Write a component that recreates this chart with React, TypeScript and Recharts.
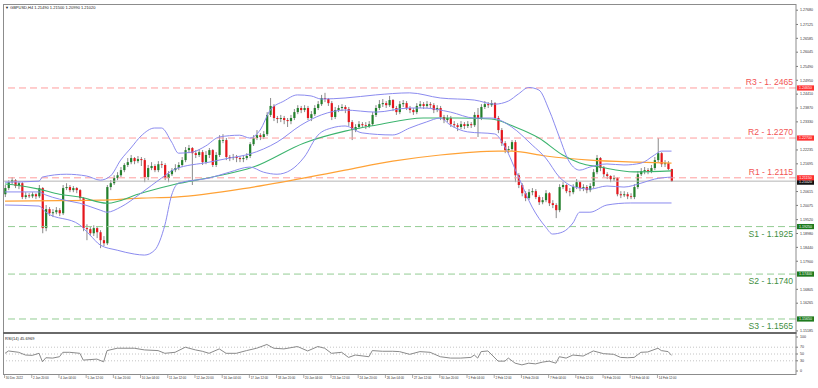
import type { ReactElement } from 'react'
import { Bar, ComposedChart, Line, ReferenceLine, XAxis, YAxis } from 'recharts'

// GBPUSD H4, 30 Dec 2022 – 15 Feb 2023. Values.
const FIRST_OPEN = 1.2051

const closes = [
  1.2075, 1.2098, 1.2106, 1.2083, 1.2094, 1.2040, 1.2047, 1.2043, 1.2051, 1.2043,
  1.2075, 1.1919, 1.1993, 1.1977, 1.1981, 1.1989, 1.1977, 1.2075, 1.2079, 1.2067,
  1.2075, 1.2067, 1.2036, 1.1919, 1.1915, 1.1899, 1.1919, 1.1903, 1.1872, 1.1860,
  1.2079, 1.2094, 1.2114, 1.2125, 1.2145, 1.2165, 1.2176, 1.2192, 1.2180, 1.2188,
  1.2184, 1.2118, 1.2153, 1.2161, 1.2145, 1.2168, 1.2165, 1.2114, 1.2129, 1.2145,
  1.2153, 1.2165, 1.2184, 1.2223, 1.2231, 1.2211, 1.2204, 1.2215, 1.2176, 1.2204,
  1.2223, 1.2165, 1.2204, 1.2262, 1.2262, 1.2196, 1.2192, 1.2196, 1.2192, 1.2188,
  1.2192, 1.2200, 1.2246, 1.2270, 1.2281, 1.2274, 1.2285, 1.2360, 1.2395, 1.2348,
  1.2344, 1.2348, 1.2340, 1.2336, 1.2348, 1.2371, 1.2387, 1.2379, 1.2387, 1.2348,
  1.2363, 1.2387, 1.2402, 1.2426, 1.2422, 1.2406, 1.2352, 1.2379, 1.2387, 1.2391,
  1.2383, 1.2332, 1.2301, 1.2313, 1.2324, 1.2320, 1.2317, 1.2324, 1.2360, 1.2387,
  1.2402, 1.2406, 1.2398, 1.2418, 1.2387, 1.2371, 1.2402, 1.2406, 1.2387, 1.2379,
  1.2371, 1.2395, 1.2402, 1.2395, 1.2402, 1.2398, 1.2379, 1.2387, 1.2352, 1.2340,
  1.2348, 1.2324, 1.2320, 1.2313, 1.2324, 1.2317, 1.2324, 1.2320, 1.2360, 1.2348,
  1.2391, 1.2402, 1.2398, 1.2406, 1.2348, 1.2301, 1.2250, 1.2223, 1.2227, 1.2254,
  1.2125, 1.2087, 1.2055, 1.2036, 1.2059, 1.2063, 1.2040, 1.2020, 1.2028, 1.2055,
  1.2016, 1.2009, 1.1989, 1.2079, 1.2087, 1.2063, 1.2059, 1.2079, 1.2098, 1.2075,
  1.2079, 1.2067, 1.2083, 1.2137, 1.2192, 1.2153, 1.2129, 1.2122, 1.2110, 1.2114,
  1.2051, 1.2047, 1.2051, 1.2043, 1.2040, 1.2079, 1.2129, 1.2141, 1.2145, 1.2141,
  1.2153, 1.2184, 1.2211, 1.2168, 1.2172, 1.2149, 1.2102
]

const highs = [
  1.2087, 1.2106, 1.2118, 1.2110, 1.2102, 1.2098, 1.2059, 1.2055, 1.2059, 1.2055,
  1.2087, 1.2079, 1.2009, 1.2001, 1.1993, 1.2001, 1.1997, 1.2087, 1.2094, 1.2087,
  1.2083, 1.2079, 1.2071, 1.2040, 1.1934, 1.1923, 1.1930, 1.1923, 1.1911, 1.1888,
  1.2087, 1.2106, 1.2125, 1.2137, 1.2157, 1.2172, 1.2192, 1.2204, 1.2196, 1.2200,
  1.2196, 1.2192, 1.2165, 1.2176, 1.2168, 1.2180, 1.2180, 1.2172, 1.2141, 1.2153,
  1.2168, 1.2176, 1.2196, 1.2235, 1.2243, 1.2235, 1.2223, 1.2227, 1.2223, 1.2219,
  1.2231, 1.2227, 1.2215, 1.2281, 1.2285, 1.2270, 1.2204, 1.2208, 1.2204, 1.2200,
  1.2204, 1.2211, 1.2254, 1.2281, 1.2301, 1.2289, 1.2297, 1.2371, 1.2426, 1.2402,
  1.2356, 1.2360, 1.2356, 1.2348, 1.2360, 1.2383, 1.2398, 1.2395, 1.2398, 1.2395,
  1.2375, 1.2398, 1.2414, 1.2438, 1.2446, 1.2426, 1.2414, 1.2391, 1.2398, 1.2402,
  1.2398, 1.2391, 1.2340, 1.2324, 1.2336, 1.2332, 1.2332, 1.2336, 1.2371, 1.2398,
  1.2418, 1.2422, 1.2414, 1.2434, 1.2422, 1.2395, 1.2414, 1.2418, 1.2414, 1.2395,
  1.2387, 1.2406, 1.2414, 1.2410, 1.2414, 1.2410, 1.2406, 1.2398, 1.2395, 1.2360,
  1.2360, 1.2356, 1.2336, 1.2328, 1.2336, 1.2332, 1.2336, 1.2332, 1.2371, 1.2387,
  1.2402, 1.2414, 1.2410, 1.2418, 1.2410, 1.2356, 1.2309, 1.2258, 1.2239, 1.2262,
  1.2262, 1.2133, 1.2094, 1.2063, 1.2071, 1.2075, 1.2071, 1.2047, 1.2040, 1.2067,
  1.2059, 1.2028, 1.2016, 1.2090, 1.2098, 1.2090, 1.2075, 1.2090, 1.2110, 1.2102,
  1.2090, 1.2087, 1.2094, 1.2149, 1.2204, 1.2196, 1.2161, 1.2137, 1.2125, 1.2125,
  1.2118, 1.2063, 1.2063, 1.2059, 1.2055, 1.2090, 1.2141, 1.2153, 1.2157, 1.2153,
  1.2165, 1.2196, 1.2270, 1.2215, 1.2184, 1.2180, 1.2150
]

const lows = [
  1.2040, 1.2067, 1.2090, 1.2075, 1.2071, 1.2032, 1.2032, 1.2036, 1.2036, 1.2032,
  1.2036, 1.1899, 1.1907, 1.1966, 1.1962, 1.1973, 1.1966, 1.1970, 1.2067, 1.2059,
  1.2059, 1.2055, 1.2028, 1.1907, 1.1872, 1.1888, 1.1888, 1.1880, 1.1841, 1.1849,
  1.1853, 1.2067, 1.2087, 1.2106, 1.2118, 1.2137, 1.2157, 1.2168, 1.2168, 1.2172,
  1.2161, 1.2098, 1.2106, 1.2145, 1.2137, 1.2137, 1.2153, 1.2106, 1.2098, 1.2122,
  1.2137, 1.2145, 1.2157, 1.2176, 1.2211, 1.2087, 1.2192, 1.2196, 1.2165, 1.2168,
  1.2192, 1.2157, 1.2157, 1.2196, 1.2250, 1.2184, 1.2180, 1.2184, 1.2176, 1.2176,
  1.2176, 1.2184, 1.2192, 1.2239, 1.2262, 1.2262, 1.2266, 1.2278, 1.2352, 1.2336,
  1.2328, 1.2332, 1.2324, 1.2313, 1.2324, 1.2340, 1.2363, 1.2367, 1.2371, 1.2340,
  1.2336, 1.2356, 1.2379, 1.2395, 1.2410, 1.2395, 1.2340, 1.2344, 1.2371, 1.2375,
  1.2367, 1.2317, 1.2262, 1.2293, 1.2305, 1.2309, 1.2305, 1.2309, 1.2317, 1.2352,
  1.2379, 1.2391, 1.2387, 1.2391, 1.2375, 1.2360, 1.2363, 1.2391, 1.2379, 1.2367,
  1.2360, 1.2363, 1.2387, 1.2383, 1.2387, 1.2387, 1.2367, 1.2371, 1.2340, 1.2328,
  1.2332, 1.2313, 1.2309, 1.2297, 1.2305, 1.2305, 1.2309, 1.2309, 1.2313, 1.2274,
  1.2340, 1.2383, 1.2387, 1.2391, 1.2340, 1.2289, 1.2239, 1.2211, 1.2211, 1.2219,
  1.2098, 1.2075, 1.2043, 1.2024, 1.2028, 1.2047, 1.2032, 1.2009, 1.2012, 1.2020,
  1.2005, 1.1997, 1.1958, 1.1981, 1.2071, 1.2055, 1.2043, 1.2051, 1.2071, 1.2063,
  1.2063, 1.2055, 1.2059, 1.2075, 1.2129, 1.2141, 1.2118, 1.2110, 1.2098, 1.2102,
  1.2043, 1.2036, 1.2040, 1.2032, 1.2032, 1.2032, 1.2071, 1.2122, 1.2129, 1.2129,
  1.2133, 1.2145, 1.2176, 1.2157, 1.2157, 1.2145, 1.2099
]

// indicator readings as [bar index, value]
const bbUpper: [number, number][] = [
  [0, 1.2098], [10, 1.2102], [11, 1.2118], [18, 1.2129], [24, 1.2122], [28, 1.2106],
  [31, 1.2122], [34, 1.2184], [37, 1.2231], [40, 1.2278], [44, 1.2309], [46, 1.2309],
  [49, 1.2254], [51, 1.2211], [55, 1.2215], [59, 1.2239], [63, 1.2274], [69, 1.2281],
  [72, 1.2270], [75, 1.2301], [78, 1.2379], [82, 1.2414], [86, 1.2438], [90, 1.2434],
  [93, 1.2422], [100, 1.2426], [109, 1.2438], [119, 1.2446], [128, 1.2426], [138, 1.2418],
  [144, 1.2402], [148, 1.2414], [151, 1.2442], [154, 1.2467], [157, 1.2457], [160, 1.2379],
  [163, 1.2274], [166, 1.2176], [169, 1.2145], [172, 1.2157], [177, 1.2169], [182, 1.2165],
  [187, 1.2172], [191, 1.2204], [193, 1.2219], [196, 1.2219]
]

const bbMiddle: [number, number][] = [
  [0, 1.2060], [10, 1.2060], [12, 1.2048], [16, 1.2032], [22, 1.2016], [28, 1.1989],
  [30, 1.1981], [34, 1.2001], [40, 1.2055], [46, 1.2114], [50, 1.2149], [60, 1.2176],
  [66, 1.2192], [72, 1.2208], [80, 1.2254], [87, 1.2320], [93, 1.2360], [100, 1.2379],
  [109, 1.2371], [119, 1.2387], [123, 1.2387], [131, 1.2371], [138, 1.2348], [143, 1.2348],
  [149, 1.2313], [155, 1.2243], [159, 1.2192], [163, 1.2118], [166, 1.2087], [169, 1.2075],
  [172, 1.2071], [177, 1.2083], [182, 1.2079], [187, 1.2094], [191, 1.2110], [196, 1.2118]
]

const bbLower: [number, number][] = [
  [0, 1.2009], [10, 1.2005], [12, 1.1981], [22, 1.1931], [25, 1.1892], [28, 1.1853],
  [33, 1.1833], [38, 1.1818], [41, 1.1814], [44, 1.1833], [47, 1.1931], [49, 1.2048],
  [51, 1.2094], [60, 1.2114], [66, 1.2137], [72, 1.2157], [76, 1.2137], [80, 1.2129],
  [84, 1.2145], [88, 1.2196], [92, 1.2281], [96, 1.2309], [100, 1.2317], [105, 1.2290],
  [114, 1.2282], [119, 1.2309], [124, 1.2333], [128, 1.2348], [131, 1.2320], [136, 1.2294],
  [144, 1.2286], [147, 1.2235], [151, 1.2118], [155, 1.2001], [159, 1.1923], [161, 1.1896],
  [164, 1.1904], [167, 1.1939], [169, 1.1981], [172, 1.1981], [177, 1.2009], [184, 1.2017],
  [196, 1.2017]
]

const maGreen: [number, number][] = [
  [0, 1.2091], [3, 1.2087], [10, 1.2071], [16, 1.2051], [22, 1.2040], [30, 1.2016],
  [40, 1.2055], [50, 1.2090], [61, 1.2118], [73, 1.2157], [88, 1.2251], [100, 1.2297],
  [109, 1.2320], [123, 1.2348], [133, 1.2348], [143, 1.2344], [150, 1.2313], [157, 1.2270],
  [164, 1.2204], [169, 1.2173], [175, 1.2157], [185, 1.2138], [196, 1.2142]
]

const maOrange: [number, number][] = [
  [0, 1.2024], [16, 1.2026], [28, 1.2028], [40, 1.2036], [50, 1.2040], [73, 1.2079],
  [100, 1.2145], [114, 1.2180], [128, 1.2204], [145, 1.2219], [149, 1.2219], [159, 1.2200],
  [172, 1.2184], [186, 1.2176], [196, 1.2172]
]

const rsi14: [number, number][] = [
  [0, 52], [1, 59], [4, 55], [6, 47], [8, 46], [10, 52], [11, 27], [12, 39], [14, 38],
  [16, 42], [17, 55], [19, 55], [22, 52], [23, 32], [27, 35], [29, 27], [30, 60], [33, 67],
  [38, 67], [41, 62], [45, 60], [47, 52], [50, 55], [53, 70], [56, 62], [58, 58], [60, 52],
  [63, 65], [65, 52], [68, 52], [71, 60], [74, 67], [77, 78], [79, 67], [82, 65], [86, 72],
  [89, 59], [92, 72], [94, 67], [96, 52], [99, 55], [101, 40], [103, 47], [107, 42],
  [108, 60], [111, 58], [114, 58], [116, 57], [119, 49], [122, 57], [125, 55], [128, 42],
  [131, 38], [134, 38], [137, 40], [138, 47], [139, 38], [140, 57], [142, 59], [145, 29],
  [147, 29], [148, 38], [150, 23], [152, 18], [154, 23], [156, 21], [158, 26], [160, 29],
  [162, 23], [163, 42], [165, 38], [167, 47], [170, 44], [173, 59], [176, 51], [179, 49],
  [181, 40], [183, 39], [185, 40], [187, 55], [189, 56], [192, 67], [193, 60], [195, 57],
  [196, 46]
]

const levels = [
  { kind: 'R', value: 1.2465, text: 'R3 - 1. 2465' },
  { kind: 'R', value: 1.2270, text: 'R2 - 1.2270' },
  { kind: 'R', value: 1.2115, text: 'R1 - 1.2115' },
  { kind: 'S', value: 1.1925, text: 'S1 - 1.1925' },
  { kind: 'S', value: 1.1740, text: 'S2 - 1.1740' },
  { kind: 'S', value: 1.1565, text: 'S3 - 1.1565' }
]

// visible price labels (the ones under the level tags are hidden)
const priceTicks = [
  1.27680, 1.27125, 1.26585, 1.26045, 1.25490, 1.24950, 1.24410, 1.23870, 1.23330,
  1.22235, 1.21695, 1.20615, 1.20075, 1.19520, 1.18980, 1.18440, 1.17900, 1.16805,
  1.16265, 1.15185
]
const rsiTicks = [0, 30, 50, 70, 100]

const timeLabels = [
  '30 Dec 2022', '2 Jan 20:00', '4 Jan 04:00', '5 Jan 12:00', '6 Jan 20:00',
  '10 Jan 04:00', '11 Jan 12:00', '12 Jan 20:00', '16 Jan 04:00', '17 Jan 12:00',
  '18 Jan 20:00', '20 Jan 04:00', '23 Jan 12:00', '24 Jan 20:00', '26 Jan 04:00',
  '27 Jan 12:00', '30 Jan 20:00', '1 Feb 04:00', '2 Feb 12:00', '3 Feb 20:00',
  '7 Feb 04:00', '8 Feb 12:00', '9 Feb 20:00', '13 Feb 04:00', '14 Feb 12:00'
]
const BARS_PER_LABEL = 8

const W = 818
const FONT = '"Liberation Sans", Arial, sans-serif'
const X_DOMAIN: [number, number] = [-0.6, 232.6]
const PRICE_DOMAIN: [number, number] = [1.15104, 1.27922]

const BULL = '#23802c'
const BEAR = '#e5161c'
const WICK = '#7d7d7d'
const BAND = '#8b8bef'
const RES_LINE = '#ff9d9d'
const SUP_LINE = '#93cc93'
const RES_TEXT = '#f25555'
const SUP_TEXT = '#3f8f3f'
const RES_TAG = '#ff3030'
const SUP_TAG = '#1d7a1d'

type Row = {
  i: number
  o: number
  c: number
  h: number
  l: number
  range: [number, number]
  [key: string]: number | null | [number, number]
}

const rows: Row[] = closes.map((c, i) => ({
  i,
  o: i === 0 ? FIRST_OPEN : closes[i - 1],
  c,
  h: highs[i],
  l: lows[i],
  range: [lows[i], highs[i]],
  upper: null,
  middle: null,
  lower: null,
  green: null,
  orange: null,
  rsi: null
}))

function put(key: string, pts: [number, number][]): void {
  pts.forEach(([i, v]) => { rows[i][key] = v })
}
put('upper', bbUpper)
put('middle', bbMiddle)
put('lower', bbLower)
put('green', maGreen)
put('orange', maOrange)
put('rsi', rsi14)

const lastClose = closes[closes.length - 1]

function Candle(props: any): ReactElement | null {
  const { x, y, width, height, payload } = props
  if (payload == null || y == null || height == null) return null
  const { o, c, h, l } = payload as Row
  const top = Math.min(y, y + height)
  const span = Math.abs(height)
  const k = h === l ? 0 : span / (h - l)
  const bodyTop = top + (h - Math.max(o, c)) * k
  const bodyBot = top + (h - Math.min(o, c)) * k
  const cx = x + width / 2
  return (
    <g>
      <line x1={cx} x2={cx} y1={top} y2={top + span} stroke={WICK} strokeWidth={0.9} />
      <rect
        x={cx - 1.1}
        y={bodyTop}
        width={2.2}
        height={Math.max(bodyBot - bodyTop, 0.8)}
        fill={c >= o ? BULL : BEAR}
      />
    </g>
  )
}

function Tag({ x, y, fill, text }: { x: number, y: number, fill: string, text: string }): ReactElement {
  return (
    <g fontFamily={FONT}>
      <rect x={x} y={y - 2.6} width={17} height={5.2} fill={fill} />
      <text x={x + 8.5} y={y + 1.3} textAnchor="middle" fontSize={3.6} fill="#ffffff">{text}</text>
    </g>
  )
}

function LevelMark(props: any): ReactElement | null {
  const { viewBox, level } = props
  if (!viewBox) return null
  const right = viewBox.x + viewBox.width
  const y = viewBox.y
  const res = level.kind === 'R'
  return (
    <g>
      <text
        x={right - 3}
        y={res ? y - 3 : y + 10}
        textAnchor="end"
        fontSize={8.6}
        fontFamily={FONT}
        fill={res ? RES_TEXT : SUP_TEXT}
      >
        {level.text}
      </text>
      <Tag x={right + 1} y={y} fill={res ? RES_TAG : SUP_TAG} text={level.value.toFixed(5)} />
    </g>
  )
}

function PriceTag(props: any): ReactElement | null {
  const { viewBox } = props
  if (!viewBox) return null
  return <Tag x={viewBox.x + viewBox.width + 1} y={viewBox.y + 1} fill="#111111" text={lastClose.toFixed(5)} />
}

function TimeTick(props: any): ReactElement | null {
  const { x, payload } = props
  const label = timeLabels[Math.round(payload.value / BARS_PER_LABEL)]
  if (label == null) return null
  return (
    <g>
      <line x1={x - 0.5} x2={x - 0.5} y1={42} y2={45} stroke="#8a8a8a" strokeWidth={0.7} />
      <text x={x + 0.8} y={46.2} fontSize={3} fill="#333333" fontFamily={FONT}>{label}</text>
    </g>
  )
}

const axisTick = { fontSize: 3.6, fill: '#333333', fontFamily: FONT }

function PriceChart(): ReactElement {
  return (
    <ComposedChart width={W} height={333} data={rows} margin={{ top: 4, right: 0, bottom: 0, left: 3 }}>
      <XAxis type="number" dataKey="i" domain={X_DOMAIN} hide allowDataOverflow />
      <YAxis
        orientation="right"
        width={22}
        domain={PRICE_DOMAIN}
        ticks={priceTicks}
        interval={0}
        allowDataOverflow
        axisLine={false}
        tickLine={{ stroke: '#777777' }}
        tickSize={2}
        tickMargin={2}
        tick={axisTick}
        tickFormatter={(v: number) => v.toFixed(5)}
      />
      <ReferenceLine y={lastClose} stroke="#b4b4b4" strokeWidth={1} label={<PriceTag />} />
      {levels.map((lv) => (
        <ReferenceLine
          key={lv.text}
          y={lv.value}
          stroke={lv.kind === 'R' ? RES_LINE : SUP_LINE}
          strokeWidth={1}
          strokeDasharray="7 4"
          label={<LevelMark level={lv} />}
        />
      ))}
      <Bar dataKey="range" barSize={2} shape={Candle} isAnimationActive={false} />
      <Line dataKey="orange" type="monotone" stroke="#ffa236" strokeWidth={1.2} dot={false} activeDot={false} connectNulls isAnimationActive={false} />
      <Line dataKey="green" type="monotone" stroke="#3cb46e" strokeWidth={1.1} dot={false} activeDot={false} connectNulls isAnimationActive={false} />
      <Line dataKey="upper" type="monotone" stroke={BAND} strokeWidth={1} dot={false} activeDot={false} connectNulls isAnimationActive={false} />
      <Line dataKey="middle" type="monotone" stroke={BAND} strokeWidth={1} dot={false} activeDot={false} connectNulls isAnimationActive={false} />
      <Line dataKey="lower" type="monotone" stroke={BAND} strokeWidth={1} dot={false} activeDot={false} connectNulls isAnimationActive={false} />
    </ComposedChart>
  )
}

function RsiChart(): ReactElement {
  return (
    <ComposedChart width={W} height={55} data={rows} margin={{ top: 4, right: 0, bottom: 0, left: 3 }}>
      <XAxis
        type="number"
        dataKey="i"
        domain={X_DOMAIN}
        ticks={timeLabels.map((_, k) => k * BARS_PER_LABEL)}
        interval={0}
        height={17}
        axisLine={false}
        tickLine={false}
        tick={<TimeTick />}
        allowDataOverflow
      />
      <YAxis
        orientation="right"
        width={22}
        domain={[0, 100]}
        ticks={rsiTicks}
        interval={0}
        axisLine={false}
        tickLine={{ stroke: '#777777' }}
        tickSize={2}
        tickMargin={2}
        tick={axisTick}
      />
      {[70, 50, 30].map((v) => (
        <ReferenceLine key={v} y={v} stroke="#c4c4c4" strokeDasharray="1 2" />
      ))}
      <Line dataKey="rsi" type="linear" stroke="#8a8a8a" strokeWidth={1} dot={false} activeDot={false} connectNulls isAnimationActive={false} />
    </ComposedChart>
  )
}

export default function App(): ReactElement {
  return (
    <div style={{ position: 'absolute', left: 0, top: 0, width: W, height: 388, background: '#ffffff', fontFamily: FONT }}>
      <div style={{ position: 'absolute', left: 0, top: 0 }}>
        <PriceChart />
      </div>
      <div style={{ position: 'absolute', left: 0, top: 333 }}>
        <RsiChart />
      </div>
      <svg width={W} height={388} style={{ position: 'absolute', left: 0, top: 0, pointerEvents: 'none' }}>
        <rect x={3.5} y={4.5} width={792.5} height={370} fill="none" stroke="#8c8c8c" strokeWidth={1} />
        <line x1={3} x2={796.5} y1={333} y2={333} stroke="#6a6a6a" strokeWidth={2} />
        <text x={5} y={8.5} fontSize={4} fill="#222222" fontFamily={FONT}>▼ GBPUSD,H4  1.21490 1.21500 1.20990 1.21020</text>
        <text x={5} y={339.8} fontSize={4} fill="#222222" fontFamily={FONT}>RSI(14) 45.6969</text>
      </svg>
    </div>
  )
}
